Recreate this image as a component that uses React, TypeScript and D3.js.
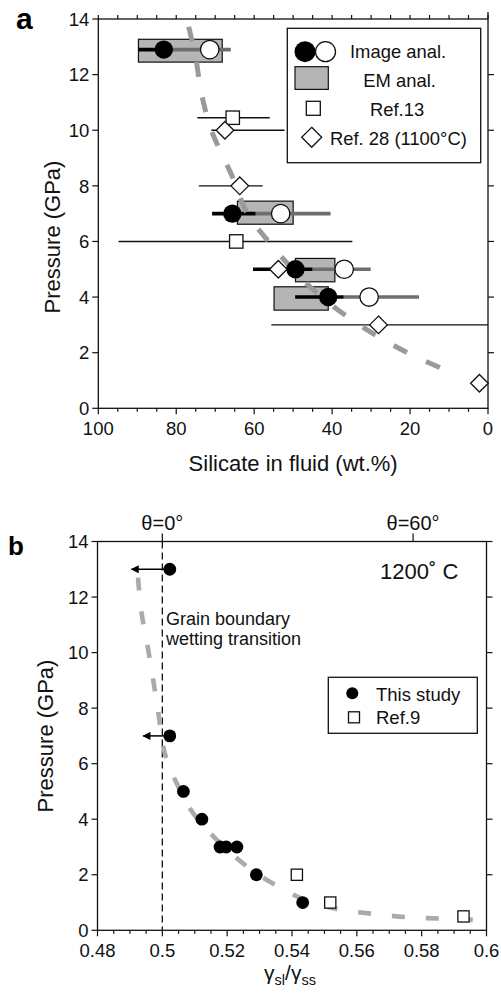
import React from "react";
import * as d3 from "d3";

// ---------- panel a : silicate content of fluid vs pressure ----------
const aPressure = [12.9, 7.0, 5.0, 4.0];
// image analysis, filled symbol and its bar
const aImgFilled = [83.2, 65.6, 49.4, 41.0];
const aImgFilledLo = [89.7, 70.8, 60.3, 49.5];
const aImgFilledHi = [81, 59.6, 45, 37];
// image analysis, open symbol and its bar
const aImgOpen = [71.4, 53.2, 36.9, 30.5];
const aImgOpenLo = [81, 59.6, 45, 37];
const aImgOpenHi = [66, 40.4, 30.1, 17.7];
// EM analysis boxes
const aEmLo = [89.7, 64.3, 49.4, 54.9];
const aEmHi = [68.2, 50, 39.3, 41.0];
const aEmPLo = [12.45, 6.62, 4.55, 3.53];
const aEmPHi = [13.27, 7.45, 5.39, 4.37];

const ref13P = [10.45, 6.0];
const ref13X = [65.5, 64.6];
const ref13Lo = [74.6, 94.8];
const ref13Hi = [56, 34.8];

const ref28P = [10, 8, 5, 3, 0.9];
const ref28X = [67.5, 63.7, 53.8, 28.1, 2.2];
const ref28Lo = [71, 74.2, 60.3, 55.6, null];
const ref28Hi = [52.2, 57.8, 48, 0, null];

const aTrend = [
  [76.8, 13.72], [75, 12.6], [73.5, 11.3], [71, 10], [68.5, 9.2], [65.5, 8.3],
  [61.8, 7.0], [57.5, 6.2], [52.4, 5.35], [46.3, 4.45], [40, 3.7], [33, 3.0],
  [25.4, 2.35], [17, 1.75], [8.6, 1.25],
];

const aXTicks = [100, 80, 60, 40, 20, 0];
const aYTicks = [0, 2, 4, 6, 8, 10, 12, 14];

// ---------- panel b : dihedral angle ratio vs pressure ----------
const bThisX = [0.5023, 0.5023, 0.5065, 0.5122, 0.5178, 0.5197, 0.523, 0.529, 0.5433];
const bThisP = [13, 7, 5, 4, 3, 3, 3, 2, 1];
const bArrowP = [13, 7];
const bArrowFrom = [0.5023, 0.5023];
const bArrowTo = [0.4905, 0.4941];
const bRef9X = [0.5415, 0.5518, 0.5929];
const bRef9P = [2, 1, 0.5];

const bTrend = [
  [0.4925, 12.7], [0.4935, 11.5], [0.4955, 10.2], [0.4972, 9], [0.4988, 7.8],
  [0.5003, 6.6], [0.5015, 6.1], [0.5044, 5.3], [0.5096, 4.2], [0.5168, 3.26],
  [0.5261, 2.3], [0.5364, 1.53], [0.545, 1.05], [0.555, 0.74], [0.5652, 0.59],
  [0.5756, 0.47], [0.5859, 0.42], [0.5988, 0.36],
];

const bXTicks = [0.48, 0.5, 0.52, 0.54, 0.56, 0.58, 0.6];
const bXLabels = ["0.48", "0.5", "0.52", "0.54", "0.56", "0.58", "0.6"];
const bYTicks = [0, 2, 4, 6, 8, 10, 12, 14];
const bTheta = [0.5, 0.57735];
const bThetaLabels = ["θ=0°", "θ=60°"];

const FONT = "'Liberation Sans', Arial, Helvetica, sans-serif";
const INK = "#111";

const PanelA = () => {
  const x = d3.scaleLinear().domain([100, 0]).range([98.3, 488]);
  const y = d3.scaleLinear().domain([0, 14]).range([408.3, 19]);
  const [x0, x1] = x.range();
  const [y0, y1] = y.range();
  const line = d3
    .line<number[]>()
    .x(d => x(d[0]))
    .y(d => y(d[1]))
    .curve(d3.curveCatmullRom.alpha(0.5));
  const minor = d3.range(0, 101, 5);

  return (
    <g>
      {/* frame */}
      <rect x={x0} y={y1} width={x1 - x0} height={y0 - y1} fill="none" stroke={INK} strokeWidth={1.3} />
      <line x1={x1} x2={x1} y1={y1 - 7} y2={y1} stroke={INK} strokeWidth={1.3} />

      {/* bottom + top ticks */}
      {minor.map(v => (
        <g key={"m" + v}>
          <line x1={x(v)} x2={x(v)} y1={y0} y2={y0 + (v % 20 === 0 ? 6 : 3.5)} stroke={INK} strokeWidth={1.2} />
          <line x1={x(v)} x2={x(v)} y1={y1} y2={y1 - 4} stroke={INK} strokeWidth={1.2} />
        </g>
      ))}
      {aXTicks.map(v => (
        <text key={"xl" + v} x={x(v)} y={y0 + 27} textAnchor="middle" fontSize={18.5} fill={INK}>
          {v}
        </text>
      ))}
      {aYTicks.map(v => (
        <g key={"y" + v}>
          <line x1={x0 - 6} x2={x0} y1={y(v)} y2={y(v)} stroke={INK} strokeWidth={1.2} />
          {v > 0 && v < 14 && (
            <line x1={x1} x2={x1 + 6} y1={y(v)} y2={y(v)} stroke={INK} strokeWidth={1.2} />
          )}
          <text x={x0 - 9} y={y(v)} dy="0.36em" textAnchor="end" fontSize={18.5} fill={INK}>
            {v}
          </text>
        </g>
      ))}

      {/* EM boxes */}
      {aPressure.map((p, i) => (
        <rect
          key={"em" + i}
          x={x(aEmLo[i])}
          y={y(aEmPHi[i])}
          width={x(aEmHi[i]) - x(aEmLo[i])}
          height={y(aEmPLo[i]) - y(aEmPHi[i])}
          fill="#b5b5b5"
          stroke={INK}
          strokeWidth={1.2}
        />
      ))}

      {/* reference error bars */}
      {ref13P.map((p, i) => (
        <line key={"r13b" + i} x1={x(ref13Lo[i])} x2={x(ref13Hi[i])} y1={y(p)} y2={y(p)} stroke={INK} strokeWidth={1.4} />
      ))}
      {ref28P.map((p, i) =>
        ref28Lo[i] === null ? null : (
          <line key={"r28b" + i} x1={x(ref28Lo[i] as number)} x2={x(ref28Hi[i] as number)} y1={y(p)} y2={y(p)} stroke={INK} strokeWidth={1.4} />
        )
      )}

      {/* image analysis bars */}
      {aPressure.map((p, i) => (
        <g key={"ib" + i}>
          <line x1={x(aImgFilledLo[i])} x2={x(aImgFilledHi[i])} y1={y(p)} y2={y(p)} stroke="#000" strokeWidth={3.6} />
          <line x1={x(aImgOpenLo[i])} x2={x(aImgOpenHi[i])} y1={y(p)} y2={y(p)} stroke="#6e6e6e" strokeWidth={3.6} />
        </g>
      ))}

      {/* trend */}
      <path d={line(aTrend) || ""} fill="none" stroke="#9a9a9a" strokeWidth={5} strokeDasharray="15,21" />

      {/* markers */}
      {ref13P.map((p, i) => (
        <rect key={"r13" + i} x={x(ref13X[i]) - 6.7} y={y(p) - 6.7} width={13.4} height={13.4} fill="#fff" stroke={INK} strokeWidth={1.3} />
      ))}
      {ref28P.map((p, i) => {
        const cx = x(ref28X[i]);
        const cy = y(p);
        const h = 8.8;
        return (
          <path key={"r28" + i} d={`M${cx},${cy - h}L${cx + h},${cy}L${cx},${cy + h}L${cx - h},${cy}Z`} fill="#fff" stroke={INK} strokeWidth={1.3} />
        );
      })}
      {aPressure.map((p, i) => (
        <g key={"im" + i}>
          <circle cx={x(aImgFilled[i])} cy={y(p)} r={9.2} fill="#000" />
          <circle cx={x(aImgOpen[i])} cy={y(p)} r={9.2} fill="#fff" stroke={INK} strokeWidth={1.3} />
        </g>
      ))}

      {/* legend */}
      <rect x={287.3} y={28.3} width={193.4} height={134.4} fill="#fff" stroke={INK} strokeWidth={1.3} />
      <circle cx={305} cy={51.7} r={10.5} fill="#000" />
      <circle cx={325.5} cy={51.7} r={10} fill="#fff" stroke={INK} strokeWidth={1.3} />
      <text x={350} y={58.3} fontSize={18.4} fill={INK}>Image anal.</text>
      <rect x={295} y={66.7} width={33.3} height={22.7} fill="#b5b5b5" stroke={INK} strokeWidth={1.2} />
      <text x={363.3} y={87} fontSize={18.4} fill={INK}>EM anal.</text>
      <rect x={306.3} y={101.3} width={14} height={14} fill="#fff" stroke={INK} strokeWidth={1.3} />
      <text x={370} y={115.5} fontSize={18.4} fill={INK}>Ref.13</text>
      <path d="M311.7,127.3L321.7,137.3L311.7,147.3L301.7,137.3Z" fill="#fff" stroke={INK} strokeWidth={1.3} />
      <text x={330} y={144.5} fontSize={18.4} fill={INK}>Ref. 28 (1100°C)</text>

      {/* axis titles */}
      <text x={(x0 + x1) / 2} y={471} textAnchor="middle" fontSize={22} fill={INK}>
        Silicate in fluid (wt.%)
      </text>
      <text transform="translate(60,237) rotate(-90)" textAnchor="middle" fontSize={22} fill={INK}>
        Pressure (GPa)
      </text>
      <text x={16} y={29.3} fontSize={30} fontWeight="bold" fill="#000">a</text>
    </g>
  );
};

const PanelB = () => {
  const x = d3.scaleLinear().domain([0.48, 0.6]).range([97.5, 486.5]);
  const y = d3.scaleLinear().domain([0, 14]).range([930.3, 541.5]);
  const [x0, x1] = x.range();
  const [y0, y1] = y.range();
  const line = d3
    .line<number[]>()
    .x(d => x(d[0]))
    .y(d => y(d[1]))
    .curve(d3.curveCatmullRom.alpha(0.5));
  const minor = d3.range(0, 25).map(i => 0.48 + i * 0.005);

  return (
    <g>
      <defs>
        <marker id="arrowHead" viewBox="0 0 10 10" refX={9} refY={5} markerWidth={9} markerHeight={8} markerUnits="userSpaceOnUse" orient="auto">
          <path d="M0,0L10,5L0,10Z" fill="#000" />
        </marker>
      </defs>
      <rect x={x0} y={y1} width={x1 - x0} height={y0 - y1} fill="none" stroke={INK} strokeWidth={1.3} />

      {minor.map((v, i) => (
        <line key={"m" + i} x1={x(v)} x2={x(v)} y1={y0} y2={y0 + (i % 4 === 0 ? 6 : 3.5)} stroke={INK} strokeWidth={1.2} />
      ))}
      {bXTicks.map((v, i) => (
        <text key={"xl" + i} x={x(v)} y={y0 + 27} textAnchor="middle" fontSize={18.5} fill={INK}>
          {bXLabels[i]}
        </text>
      ))}
      {bYTicks.map(v => (
        <g key={"y" + v}>
          <line x1={x0 - 6} x2={x0} y1={y(v)} y2={y(v)} stroke={INK} strokeWidth={1.2} />
          {v > 0 && (
            <line x1={x1} x2={x1 + 6} y1={y(v)} y2={y(v)} stroke={INK} strokeWidth={1.2} />
          )}
          <text x={x0 - 9} y={y(v)} dy="0.36em" textAnchor="end" fontSize={18.5} fill={INK}>
            {v}
          </text>
        </g>
      ))}

      {/* dihedral angle top axis */}
      {bTheta.map((v, i) => (
        <g key={"t" + i}>
          <line x1={x(v)} x2={x(v)} y1={y1} y2={y1 - 8} stroke={INK} strokeWidth={1.2} />
          <text x={x(v)} y={y1 - 12} textAnchor="middle" fontSize={20} fill={INK}>
            {bThetaLabels[i]}
          </text>
        </g>
      ))}
      <line x1={x(0.5)} x2={x(0.5)} y1={y1} y2={y0} stroke={INK} strokeWidth={1.3} strokeDasharray="7,4" />

      <path d={line(bTrend) || ""} fill="none" stroke="#aaaaaa" strokeWidth={4.6} strokeDasharray="13,21" />

      {bArrowP.map((p, i) => (
        <line key={"ar" + i} x1={x(bArrowFrom[i])} x2={x(bArrowTo[i])} y1={y(p)} y2={y(p)} stroke="#000" strokeWidth={1.5} markerEnd="url(#arrowHead)" />
      ))}
      {bRef9X.map((v, i) => (
        <rect key={"r9" + i} x={x(v) - 5.6} y={y(bRef9P[i]) - 5.6} width={11.2} height={11.2} fill="#fff" stroke={INK} strokeWidth={1.3} />
      ))}
      {bThisX.map((v, i) => (
        <circle key={"ts" + i} cx={x(v)} cy={y(bThisP[i])} r={6.4} fill="#000" />
      ))}

      <text x={166} y={625} fontSize={18} fill={INK}>Grain boundary</text>
      <text x={166} y={644.5} fontSize={18} fill={INK}>wetting transition</text>
      <text x={380} y={579} fontSize={22} fill={INK}>1200˚ C</text>

      {/* legend */}
      <rect x={328.3} y={677.3} width={149} height={56} fill="#fff" stroke={INK} strokeWidth={1.3} />
      <circle cx={352.3} cy={693.3} r={6} fill="#000" />
      <text x={376} y={700.7} fontSize={18.5} fill={INK}>This study</text>
      <rect x={348.5} y={711.8} width={11} height={11} fill="#fff" stroke={INK} strokeWidth={1.3} />
      <text x={376} y={723.5} fontSize={18.5} fill={INK}>Ref.9</text>

      <text x={290} y={980} textAnchor="middle" fontSize={21} fill={INK}>
        γ<tspan fontSize={14.5} dy={5}>sl</tspan>
        <tspan dy={-5}>/γ</tspan>
        <tspan fontSize={14.5} dy={5}>ss</tspan>
      </text>
      <text transform="translate(53,736) rotate(-90)" textAnchor="middle" fontSize={22} fill={INK}>
        Pressure (GPa)
      </text>
      <text x={8} y={555} fontSize={26} fontWeight="bold" fill="#000">b</text>
    </g>
  );
};

export default function App() {
  return (
    <svg
      width={501}
      height={993}
      style={{ position: "absolute", left: 0, top: 0, background: "#fff" }}
      fontFamily={FONT}
    >
      <rect width={501} height={993} fill="#fff" />
      <PanelA />
      <PanelB />
    </svg>
  );
}
